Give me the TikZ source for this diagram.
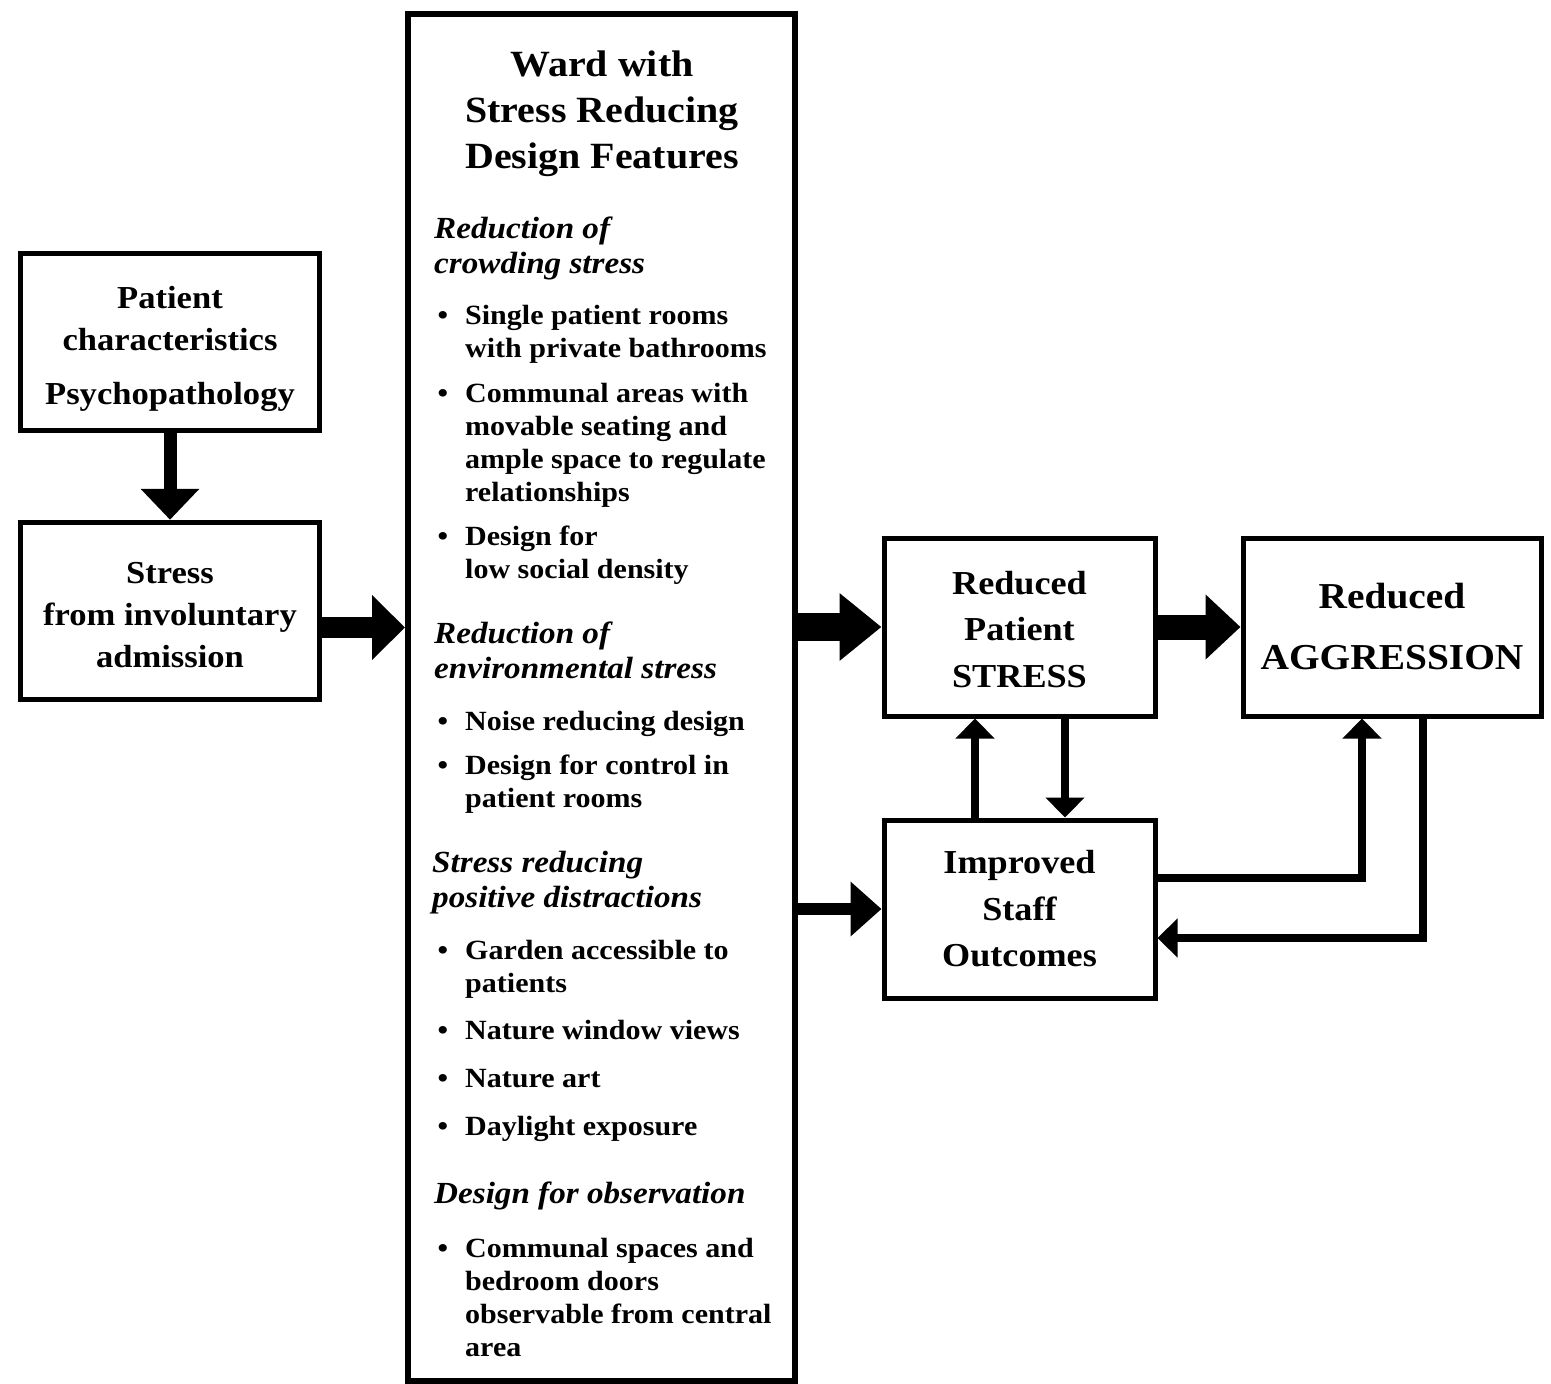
\documentclass[tikz,border=0pt]{standalone}
\usepackage{fontspec}
\setmainfont{Liberation Serif}[FakeStretch=1.08]
\usetikzlibrary{arrows.meta, calc}

\newcommand{\sized}[2]{\fontsize{#1}{#2}\selectfont\bfseries}
\newcommand{\dotmark}{\llap{\textbullet\hspace{17pt}}}

\begin{document}
\begin{tikzpicture}[x=1pt, y=-1pt,
    box/.style={draw, line width=5pt, inner sep=0pt, align=center},
    heading/.style={anchor=base west, align=left, inner sep=0pt, font=\sized{30.7}{34.5}\itshape},
    point/.style={anchor=base west, align=left, inner sep=0pt, font=\sized{27.8}{33}},
    bigarrow/.style n args={3}{line width=#1, -{Triangle[length=#2, width=#3]}},
    arrow/.style={line width=8.5pt, -{Triangle[length=20pt, width=38pt]}}
]
\useasboundingbox (0,0) rectangle (1551,1384);

% Boxes
\node[box, minimum width=299pt, minimum height=177.5pt, font=\sized{32}{42}] (patient) at (170,341.75) {\rule{0pt}{36pt}Patient\\characteristics\\[12pt]Psychopathology};
\node[box, minimum width=299pt, minimum height=177.5pt, font=\sized{32}{42}] (stress) at (170,611) {\rule{0pt}{30pt}Stress\\from involuntary\\admission};
\node[box, line width=6pt, minimum width=387pt, minimum height=1367pt] (ward) at (601.5,697.5) {};
\node[box, minimum width=271pt, minimum height=178pt, font=\sized{33.5}{46.5}] (reduced) at (1019.5,627) {\rule{0pt}{28pt}Reduced\\Patient\\STRESS};
\node[box, minimum width=271pt, minimum height=178pt, font=\sized{33.5}{46.5}] (staff) at (1019.5,909) {Improved\\Staff\\Outcomes};
\node[box, minimum width=298pt, minimum height=178pt, font=\sized{36.5}{61}] (aggression) at (1392,627) {Reduced\\AGGRESSION};

% Ward features (nodes sit on the baseline of their last line)
\node[font=\sized{37}{46}, align=center, anchor=base, inner sep=0pt] (wardtitle) at (602,168) {Ward with\\Stress Reducing\\Design Features};

\node[heading] (crowding) at (434,273) {Reduction of\\crowding stress};
\node[point] (single) at (465,357) {\dotmark Single patient rooms\\with private bathrooms};
\node[point] (communal) at (465,501) {\dotmark Communal areas with\\movable seating and\\ample space to regulate\\relationships};
\node[point] (density) at (465,578) {\dotmark Design for\\low social density};

\node[heading] (environment) at (434,678) {Reduction of\\environmental stress};
\node[point] (noise) at (465,730) {\dotmark Noise reducing design};
\node[point] (control) at (465,807) {\dotmark Design for control in\\patient rooms};

\node[heading] (distraction) at (432,907) {Stress reducing\\positive distractions};
\node[point] (garden) at (465,992) {\dotmark Garden accessible to\\patients};
\node[point] (views) at (465,1039) {\dotmark Nature window views};
\node[point] (art) at (465,1087) {\dotmark Nature art};
\node[point] (daylight) at (465,1135) {\dotmark Daylight exposure};

\node[heading] (observation) at (434,1203) {Design for observation};
\node[point] (spaces) at (465,1356) {\dotmark Communal spaces and\\bedroom doors\\observable from central\\area};

% Arrows
\draw[bigarrow={13pt}{31pt}{57pt}] (patient) -- (stress);
\draw[bigarrow={21pt}{33pt}{63pt}] ($(stress.east)+(0,16.5)$) -- ($(stress.east -| ward.west)+(0,16.5)$);
\draw[bigarrow={28pt}{42pt}{65pt}] (ward.east |- reduced.west) -- (reduced.west);
\draw[bigarrow={25pt}{35pt}{63pt}] (reduced) -- (aggression);
\draw[bigarrow={12pt}{31pt}{53pt}] (ward.east |- staff.west) -- (staff.west);

\draw[arrow] ($(staff.north)+(-44.5,0)$) -- ($(reduced.south)+(-44.5,0)$);
\draw[arrow] ($(reduced.south)+(45.5,0)$) -- ($(staff.north)+(45.5,0)$);
\draw[arrow] ($(staff.east)+(0,-31)$) -| ($(aggression.south)+(-30,0)$);
\draw[arrow] ($(aggression.south)+(31,0)$) |- ($(staff.east)+(0,29)$);

\end{tikzpicture}
\end{document}
